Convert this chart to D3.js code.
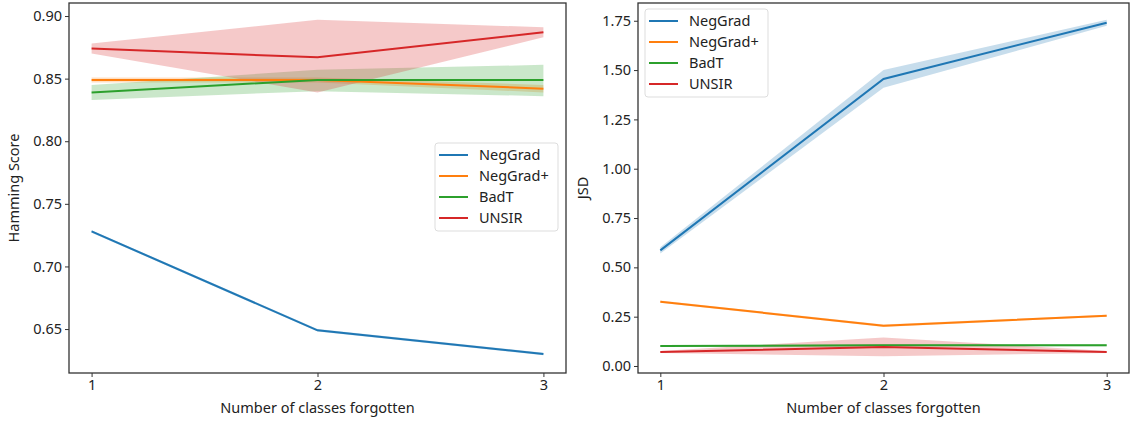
<!DOCTYPE html>
<html lang="en">
  <head>
    <meta charset="UTF-8" />
    <script src="https://d3js.org/d3.v7.min.js"></script>
    <title>Hamming / JSD</title>
    <style>
      body { margin: 0; background: #fff; }
      text { font-family: "Noto Sans", "Open Sans", sans-serif; fill: #222; }
    </style>
  </head>
  <body>
    <script>
      // data
      const classes = [1, 2, 3];
      const methods = ["NegGrad", "NegGrad+", "BadT", "UNSIR"];
      const colors = ["#1f77b4", "#ff7f0e", "#2ca02c", "#d62728"];

      const hammingMean = [
        [0.728, 0.649, 0.630],
        [0.849, 0.849, 0.842],
        [0.839, 0.849, 0.849],
        [0.874, 0.867, 0.887]
      ];
      const hammingLow = [
        [0.727, 0.648, 0.629],
        [0.847, 0.847, 0.839],
        [0.833, 0.840, 0.836],
        [0.870, 0.839, 0.883]
      ];
      const hammingHigh = [
        [0.729, 0.650, 0.631],
        [0.851, 0.851, 0.845],
        [0.845, 0.857, 0.861],
        [0.878, 0.897, 0.891]
      ];

      const jsdMean = [
        [0.586, 1.455, 1.740],
        [0.326, 0.204, 0.255],
        [0.101, 0.105, 0.105],
        [0.071, 0.096, 0.071]
      ];
      const jsdLow = [
        [0.570, 1.410, 1.725],
        [0.320, 0.198, 0.250],
        [0.096, 0.100, 0.100],
        [0.066, 0.050, 0.066]
      ];
      const jsdHigh = [
        [0.602, 1.500, 1.755],
        [0.332, 0.210, 0.260],
        [0.106, 0.110, 0.110],
        [0.076, 0.145, 0.076]
      ];

      const hammingTicks = [0.65, 0.70, 0.75, 0.80, 0.85, 0.90];
      const jsdTicks = [0.0, 0.25, 0.5, 0.75, 1.0, 1.25, 1.5, 1.75];

      const svg = d3.select("body")
        .append("svg")
        .attr("width", 1135)
        .attr("height", 424);

      function panel(opt) {
        const x = d3.scaleLinear().domain([0.9, 3.1]).range([opt.left, opt.right]);
        const y = d3.scaleLinear().domain(opt.yDomain).range([373, 3]);
        const g = svg.append("g");

        // bands
        methods.forEach((m, i) => {
          const area = d3.area()
            .x((d, j) => x(classes[j]))
            .y0((d, j) => y(opt.low[i][j]))
            .y1((d, j) => y(opt.high[i][j]));
          g.append("path")
            .attr("d", area(classes))
            .attr("fill", colors[i])
            .attr("fill-opacity", 0.25);
        });

        // lines
        methods.forEach((m, i) => {
          const line = d3.line()
            .x((d, j) => x(classes[j]))
            .y((d) => y(d));
          g.append("path")
            .attr("d", line(opt.mean[i]))
            .attr("fill", "none")
            .attr("stroke", colors[i])
            .attr("stroke-width", 2);
        });

        const axisX = d3.axisBottom(x).tickValues(classes).tickFormat(d3.format("d")).tickSize(4).tickPadding(3);
        const gx = g.append("g").attr("transform", "translate(0,373)").call(axisX);
        const axisY = d3.axisLeft(y).tickValues(opt.ticks).tickFormat(d3.format(".2f")).tickSize(4).tickPadding(3);
        const gy = g.append("g").attr("transform", `translate(${opt.left},0)`).call(axisY);
        [gx, gy].forEach((a) => {
          a.select(".domain").remove();
          a.selectAll("line").attr("stroke", "#333");
          a.selectAll("text").attr("font-size", 14.5).attr("fill", "#222");
        });

        // frame
        g.append("rect")
          .attr("x", opt.left).attr("y", 3)
          .attr("width", opt.right - opt.left).attr("height", 370)
          .attr("fill", "none").attr("stroke", "#333").attr("stroke-width", 1.3);

        g.append("text")
          .attr("x", (opt.left + opt.right) / 2).attr("y", 413)
          .attr("text-anchor", "middle").attr("font-size", 14.5)
          .text("Number of classes forgotten");
        g.append("text")
          .attr("transform", `translate(${opt.yLabelX},188) rotate(-90)`)
          .attr("text-anchor", "middle").attr("font-size", 14.5)
          .text(opt.yLabel);

        // legend
        const lg = g.append("g").attr("transform", `translate(${opt.legX},${opt.legY})`);
        lg.append("rect")
          .attr("width", 123).attr("height", 88).attr("rx", 3)
          .attr("fill", "#fff").attr("fill-opacity", 0.8)
          .attr("stroke", "#ddd");
        methods.forEach((m, i) => {
          const yy = 12 + i * 21;
          lg.append("line")
            .attr("x1", 4).attr("x2", 33).attr("y1", yy).attr("y2", yy)
            .attr("stroke", colors[i]).attr("stroke-width", 2);
          lg.append("text")
            .attr("x", 44).attr("y", yy + 5)
            .attr("font-size", 14.5)
            .text(m);
        });
      }

      panel({
        left: 69, right: 566,
        yDomain: [0.6149, 0.9104],
        mean: hammingMean, low: hammingLow, high: hammingHigh,
        ticks: hammingTicks, yLabel: "Hamming Score", yLabelX: 19,
        legX: 435, legY: 143
      });

      panel({
        left: 638, right: 1129,
        yDomain: [-0.0355, 1.84],
        mean: jsdMean, low: jsdLow, high: jsdHigh,
        ticks: jsdTicks, yLabel: "JSD", yLabelX: 588,
        legX: 645, legY: 9
      });
    </script>
  </body>
</html>
